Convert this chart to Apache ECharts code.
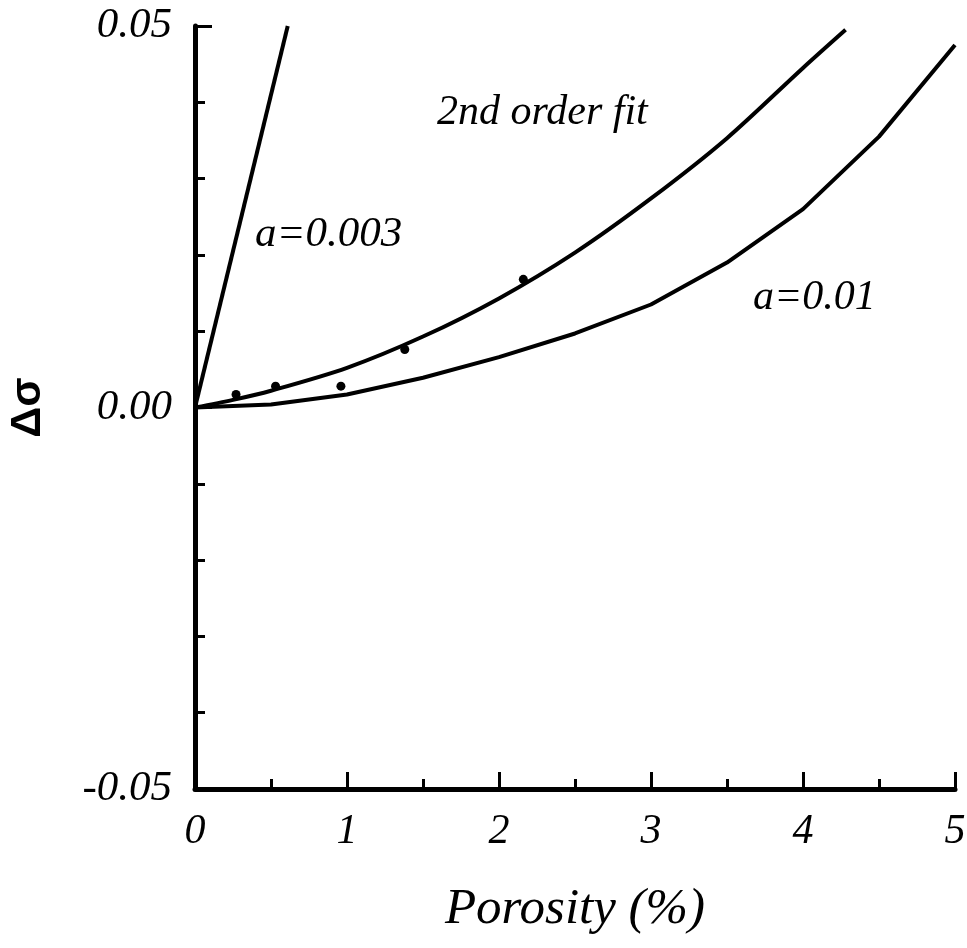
<!DOCTYPE html>
<html>
<head>
<meta charset="utf-8">
<script src="https://cdn.jsdelivr.net/npm/echarts@6/dist/echarts.min.js"></script>
<style>
  html, body { margin: 0; padding: 0; background: #fff; }
  #chart { width: 967px; height: 948px; }
</style>
</head>
<body>
<div id="chart"></div>
<script>
// Porosity (%) on x, change in conductivity on y
const xTicks = [0, 1, 2, 3, 4, 5];
const yTicks = [-0.05, 0.00, 0.05];

// a = 0.003 model line
const lineA003X = [0, 0.61];
const lineA003Y = [0, 0.05];

// second-order fit through the measurements
const fitX = [0, 0.25, 0.5, 1.0, 1.5, 2.0, 2.5, 3.0, 3.5, 4.0, 4.28];
const fitY = [0, 0.0010, 0.0022, 0.0052, 0.0093, 0.0143, 0.0203, 0.0274, 0.0353, 0.0445, 0.0495];

// a = 0.01 model curve
const lineA01X = [0, 0.5, 1.0, 1.5, 2.0, 2.5, 3.0, 3.5, 4.0, 4.5, 5.0];
const lineA01Y = [0, 0.0004, 0.0017, 0.0039, 0.0066, 0.0097, 0.0135, 0.0190, 0.0260, 0.0355, 0.0475];

// measured points
const measX = [0.27, 0.53, 0.96, 1.38, 2.16];
const measY = [0.0017, 0.0028, 0.0028, 0.0076, 0.0168];

const pairs = (xs, ys) => xs.map((x, i) => [x, ys[i]]);

const serif = 'Liberation Serif';
const chart = echarts.init(document.getElementById('chart'), null, { renderer: 'canvas' });

const lineStyle = { color: '#000', width: 4, opacity: 1 };

chart.setOption({
  animation: false,
  backgroundColor: '#fff',
  grid: { left: 195, right: 12, top: 26, bottom: 159, containLabel: false, outerBoundsMode: 'none' },
  xAxis: {
    type: 'value',
    min: xTicks[0],
    max: xTicks[xTicks.length - 1],
    interval: 1,
    name: 'Porosity (%)',
    nameLocation: 'middle',
    nameGap: 95,
    nameTextStyle: { fontFamily: serif, fontStyle: 'italic', fontSize: 51, color: '#000' },
    axisLine: { show: true, onZero: false, lineStyle: { color: '#000', width: 5 } },
    axisTick: { show: true, inside: true, length: 17, lineStyle: { color: '#000', width: 3 } },
    minorTick: { show: true, splitNumber: 2, length: 10, lineStyle: { color: '#000', width: 3 } },
    splitLine: { show: false },
    axisLabel: {
      margin: 22,
      fontFamily: serif, fontStyle: 'italic', fontSize: 42, color: '#000',
      formatter: v => String(v)
    }
  },
  yAxis: {
    type: 'value',
    min: yTicks[0],
    max: yTicks[yTicks.length - 1],
    interval: 0.05,
    name: 'Δσ',
    nameLocation: 'middle',
    nameRotate: 90,
    nameGap: 145,
    nameTextStyle: { fontFamily: 'Liberation Sans', fontWeight: 'bold', fontSize: 43, color: '#000' },
    axisLine: { show: true, onZero: false, lineStyle: { color: '#000', width: 5 } },
    axisTick: { show: true, inside: true, length: 17, lineStyle: { color: '#000', width: 3 } },
    minorTick: { show: true, splitNumber: 5, length: 10, lineStyle: { color: '#000', width: 3 } },
    splitLine: { show: false },
    axisLabel: {
      margin: 23,
      fontFamily: serif, fontStyle: 'italic', fontSize: 43, color: '#000',
      formatter: v => v.toFixed(2)
    }
  },
  series: [
    {
      name: 'a=0.003', type: 'line', data: pairs(lineA003X, lineA003Y),
      showSymbol: false, lineStyle, clip: true
    },
    {
      name: '2nd order fit', type: 'line', data: pairs(fitX, fitY),
      showSymbol: false, smooth: 0.3, lineStyle, clip: true
    },
    {
      name: 'a=0.01', type: 'line', data: pairs(lineA01X, lineA01Y),
      showSymbol: false, lineStyle, clip: true
    },
    {
      name: 'measured', type: 'scatter', data: pairs(measX, measY),
      symbol: 'circle', symbolSize: 9, itemStyle: { color: '#000', opacity: 1 }
    }
  ],
  graphic: [
    {
      type: 'text', left: 437, top: 92,
      style: { text: '2nd order fit', font: 'italic 42px "Liberation Serif"', fill: '#000' }
    },
    {
      type: 'text', left: 255, top: 213,
      style: { text: 'a=0.003', font: 'italic 43px "Liberation Serif"', fill: '#000' }
    },
    {
      type: 'text', left: 753, top: 277,
      style: { text: 'a=0.01', font: 'italic 42px "Liberation Serif"', fill: '#000' }
    }
  ]
});
</script>
</body>
</html>
